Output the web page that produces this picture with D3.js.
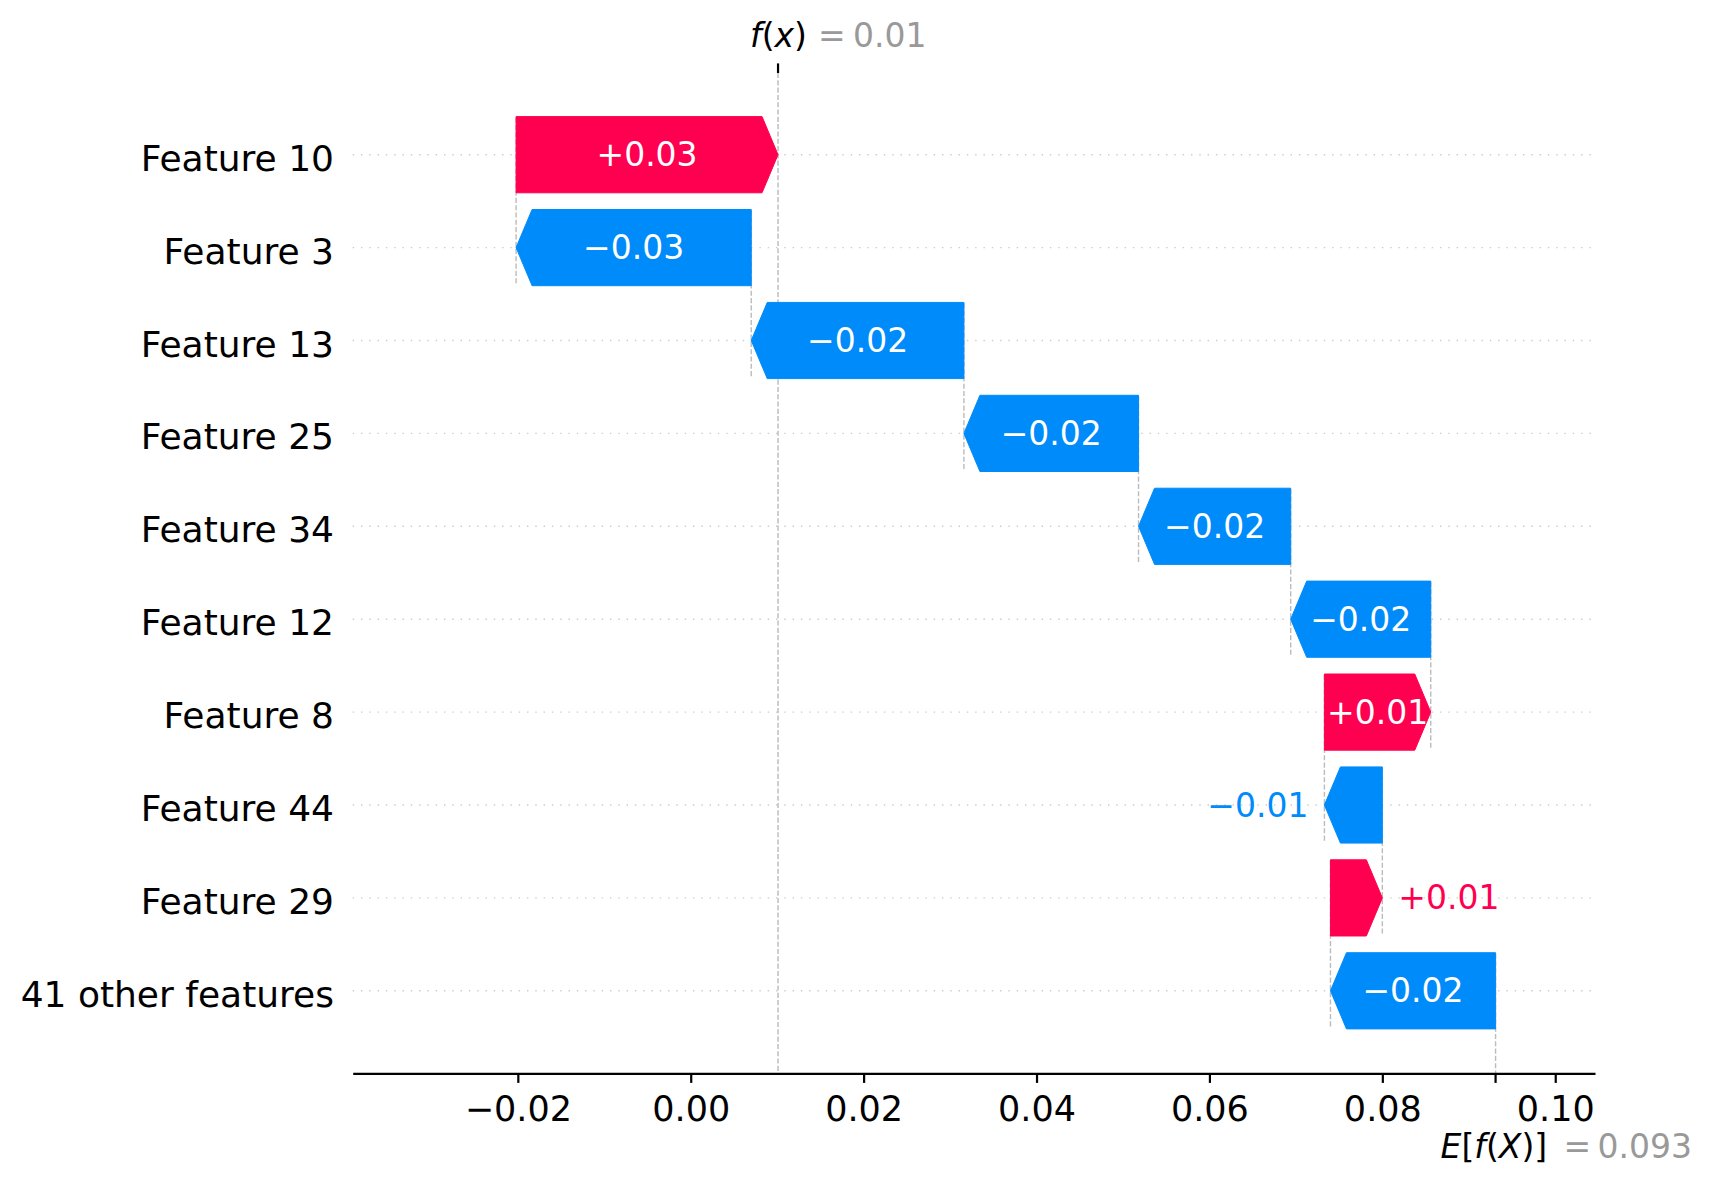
<!DOCTYPE html>
<html>
<head>
<meta charset="utf-8">
<script src="https://cdn.jsdelivr.net/npm/d3@7"></script>
<style>
body { margin: 0; background: #fff; }
svg { display: block; font-family: "DejaVu Sans", sans-serif; }
</style>
</head>
<body>
<div id="chart"></div>
<script>
// waterfall rows, top to bottom
var features = ["Feature 10", "Feature 3", "Feature 13", "Feature 25", "Feature 34",
                "Feature 12", "Feature 8", "Feature 44", "Feature 29", "41 other features"];
var shapValues = [0.0303, -0.0272, -0.0246, -0.0202, -0.0176,
                  -0.0162, 0.0123, -0.0067, 0.0060, -0.0191];
var baseValue = 0.0931;
var xTicks = [-0.02, 0.00, 0.02, 0.04, 0.06, 0.08, 0.10];

var width = 1711, height = 1187;
var plotLeft = 352.7, plotRight = 1595, plotTop = 73, plotBottom = 1073.3;
var rowFirst = 154.7, rowLast = 990.8;
var headLen = 16;
var posColor = "#ff0051", negColor = "#008bfb";

var x = d3.scaleLinear().domain([-0.0391, 0.1046]).range([plotLeft, plotRight]);
var y = d3.scalePoint().domain(features).range([rowFirst, rowLast]);
var step = y.step();
var barH = step * 0.82;

function trimZeros(s) {
	return s.replace(/0+$/, '').replace(/\.$/, '');
}

// accumulate from the bottom row (starts at E[f(X)]) upwards
var rows = [];
var cur = baseValue;
for (var i = features.length - 1; i >= 0; i--) {
	rows[i] = { name: features[i], value: shapValues[i], start: cur, end: cur + shapValues[i], idx: i };
	cur += shapValues[i];
}
var fx = cur;

var svg = d3.select('#chart').append('svg')
	.attr('width', width)
	.attr('height', height);

svg.append('rect').attr('width', width).attr('height', height).attr('fill', '#fff');

// dotted row lines
svg.append('g').selectAll('line')
	.data(features)
	.enter().append('line')
	.attr('x1', plotLeft).attr('x2', plotRight)
	.attr('y1', function(d) { return y(d); })
	.attr('y2', function(d) { return y(d); })
	.attr('stroke', '#cccccc')
	.attr('stroke-width', 1.4)
	.attr('stroke-dasharray', '1.4,6.9');

// dashed connectors
var conn = svg.append('g')
	.attr('stroke', '#bbbbbb')
	.attr('stroke-width', 1.4)
	.attr('stroke-dasharray', '5.1,2.2');
conn.selectAll('line')
	.data(rows)
	.enter().append('line')
	.attr('x1', function(d) { return x(d.start); })
	.attr('x2', function(d) { return x(d.start); })
	.attr('y1', function(d) { return y(d.name) - step * 0.4; })
	.attr('y2', function(d, i) {
		if (i < rows.length - 1) return y(rows[i + 1].name) + step * 0.4;
		return plotBottom;
	});
conn.append('line')
	.attr('x1', x(fx)).attr('x2', x(fx))
	.attr('y1', plotTop).attr('y2', plotBottom);

// bars with arrow heads
function barPath(d) {
	var x0 = x(d.start), x1 = x(d.end);
	var cy = y(d.name), t = cy - barH / 2, b = cy + barH / 2;
	var dir = d.value >= 0 ? 1 : -1;
	var h = Math.min(headLen, Math.abs(x1 - x0));
	var xn = x1 - dir * h;
	return 'M' + x0 + ',' + t + 'L' + xn + ',' + t + 'L' + x1 + ',' + cy +
		'L' + xn + ',' + b + 'L' + x0 + ',' + b + 'Z';
}
svg.append('g').selectAll('path')
	.data(rows)
	.enter().append('path')
	.attr('d', barPath)
	.attr('fill', function(d) { return d.value >= 0 ? posColor : negColor; })
	.attr('stroke', function(d) { return d.value >= 0 ? posColor : negColor; })
	.attr('stroke-width', 1);

// bar value labels
var fmtSigned = d3.format('+.2f');
var lbl = svg.append('g').attr('font-size', 33);
rows.forEach(function(d) {
	var t = lbl.append('text')
		.attr('y', y(d.name) + 11.5)
		.text(fmtSigned(d.value));
	var tw = t.node().getComputedTextLength();
	var bw = Math.abs(x(d.end) - x(d.start));
	if (tw < bw) {
		t.attr('x', (x(d.start) + x(d.end)) / 2)
			.attr('text-anchor', 'middle')
			.attr('fill', '#fff');
	} else if (d.value >= 0) {
		t.attr('x', x(d.end) + 16).attr('text-anchor', 'start').attr('fill', posColor);
	} else {
		t.attr('x', x(d.end) - 16).attr('text-anchor', 'end').attr('fill', negColor);
	}
});

// feature names
svg.append('g').selectAll('text')
	.data(features)
	.enter().append('text')
	.attr('x', 334)
	.attr('y', function(d) { return y(d) + 16; })
	.attr('text-anchor', 'end')
	.attr('font-size', 36)
	.attr('fill', '#000')
	.text(function(d) { return d; });

// bottom axis
var axis = svg.append('g')
	.attr('transform', 'translate(0,' + plotBottom + ')')
	.call(d3.axisBottom(x).tickValues(xTicks).tickFormat(d3.format('.2f'))
		.tickSize(9.6).tickSizeOuter(0).tickPadding(13));
axis.select('.domain').attr('stroke', '#000').attr('stroke-width', 2.2);
axis.selectAll('.tick line').attr('stroke', '#000').attr('stroke-width', 2.2);
axis.selectAll('.tick text').attr('font-size', 35).attr('fill', '#000')
	.attr('font-family', '"DejaVu Sans", sans-serif');
axis.append('line')
	.attr('x1', x(baseValue)).attr('x2', x(baseValue))
	.attr('y1', 0).attr('y2', 9.6)
	.attr('stroke', '#000').attr('stroke-width', 2.2);

// top f(x) tick
svg.append('line')
	.attr('x1', x(fx)).attr('x2', x(fx))
	.attr('y1', plotTop - 9.6).attr('y2', plotTop)
	.attr('stroke', '#000').attr('stroke-width', 2.2);

var annSize = 33;
function mathLabel(g, parts, xPos, yPos) {
	var t = g.append('text').attr('x', xPos).attr('y', yPos).attr('font-size', annSize);
	parts.forEach(function(p) {
		t.append('tspan')
			.attr('font-style', p[1] ? 'italic' : 'normal')
			.text(p[0]);
	});
	return t;
}

var fmt3 = d3.format('.3f');
var ann = svg.append('g');
// f(x) = ...
mathLabel(ann, [['f', 1], ['(', 0], ['x', 1], [')', 0]], x(fx) - 28, 46.7).attr('fill', '#000');
ann.append('text').attr('x', x(fx) + 40).attr('y', 46.7).attr('font-size', annSize)
	.attr('fill', '#999999').text('=');
ann.append('text').attr('x', x(fx) + 75).attr('y', 46.7).attr('font-size', annSize)
	.attr('fill', '#999999').text(trimZeros(fmt3(fx)));

// E[f(X)] = ...
mathLabel(ann, [['E', 1], ['[', 0], ['f', 1], ['(', 0], ['X', 1], [')', 0], [']', 0]],
	x(baseValue) - 55, 1157.7).attr('fill', '#000');
ann.append('text').attr('x', x(baseValue) + 68).attr('y', 1157.7).attr('font-size', annSize)
	.attr('fill', '#999999').text('=');
ann.append('text').attr('x', x(baseValue) + 102).attr('y', 1157.7).attr('font-size', annSize)
	.attr('fill', '#999999').text(trimZeros(fmt3(baseValue)));
</script>
</body>
</html>
